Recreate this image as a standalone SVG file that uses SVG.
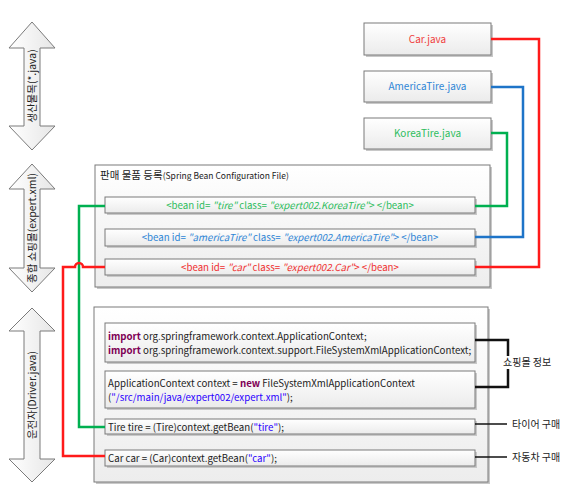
<svg xmlns="http://www.w3.org/2000/svg" width="586" height="493" viewBox="0 0 586 493">
<style>
text{font-family:"Noto Sans CJK KR","Noto Sans",sans-serif;font-size:10px;fill:#222}
.code{font-size:9.7px}
.box{fill:url(#g);stroke:#7a7a7a;stroke-width:1}
.shadow{fill:#c8c8c8}
.cont{fill:url(#g2);stroke:#7a7a7a;stroke-width:1}
.arrow{fill:url(#g3);stroke:#7a7a7a;stroke-width:1}
.c{fill:none;stroke-width:2.5}
.kw{fill:#7f0055;font-weight:bold}
.str{fill:#2a00ff}
.i{font-style:italic}
</style>
<defs>
<linearGradient id="g" x1="0" y1="0" x2="0" y2="1"><stop offset="0" stop-color="#ffffff"/><stop offset="1" stop-color="#ebebeb"/></linearGradient>
<linearGradient id="g2" x1="0" y1="0" x2="0" y2="1"><stop offset="0" stop-color="#ffffff"/><stop offset="1" stop-color="#ededed"/></linearGradient>
<linearGradient id="g3" x1="0" y1="0" x2="1" y2="0"><stop offset="0" stop-color="#ffffff"/><stop offset="1" stop-color="#e6e6e6"/></linearGradient>
</defs>
<rect width="586" height="493" fill="#ffffff"/>

<g id="arrow-product">
<polygon class="arrow" points="32,22 55,48 40,48 40,126 55,126 32,150 9,126 24,126 24,48 9,48"/>
<text transform="translate(36,86) rotate(-90)" text-anchor="middle" style="font-size:10.5px">생산물목(*.java)</text>
</g>
<g id="arrow-mall">
<polygon class="arrow" points="32,164 55,189 40,189 40,268 55,268 32,292 9,268 24,268 24,189 9,189"/>
<text transform="translate(36,228) rotate(-90)" text-anchor="middle" style="font-size:10.5px">종합 쇼핑몰(expert.xml)</text>
</g>
<g id="arrow-driver">
<polygon class="arrow" points="32,308 55,331 40,331 40,459 55,459 32,482 9,459 24,459 24,331 9,331"/>
<text transform="translate(36,395) rotate(-90)" text-anchor="middle" style="font-size:10.5px">운전자(Driver.java)</text>
</g>

<g id="car-java">
<rect class="shadow" x="366" y="25" width="127" height="32"/>
<rect class="box" x="364" y="23" width="127" height="32"/>
<text x="427.5" y="43" text-anchor="middle" style="fill:#f04040">Car.java</text>
</g>
<g id="americatire-java">
<rect class="shadow" x="366" y="73" width="127" height="31"/>
<rect class="box" x="364" y="71" width="127" height="31"/>
<text x="427.5" y="90" text-anchor="middle" style="fill:#2f86d6">AmericaTire.java</text>
</g>
<g id="koreatire-java">
<rect class="shadow" x="366" y="120" width="127" height="31"/>
<rect class="box" x="364" y="118" width="127" height="31"/>
<text x="427.5" y="137" text-anchor="middle" style="fill:#2ebd5e">KoreaTire.java</text>
</g>

<g id="config-file">
<rect class="shadow" x="97" y="167" width="395" height="122"/>
<rect class="cont" x="95" y="165" width="395" height="122"/>
<text x="100" y="179"><tspan style="font-size:10.5px">판매 물품 등록</tspan><tspan style="font-size:8.5px">(Spring Bean Configuration File)</tspan></text>
</g>
<g id="bean-tire">
<rect class="shadow" x="107" y="199" width="370" height="16"/>
<rect class="box" x="105" y="197" width="370" height="16"/>
<text class="code" x="290" y="208.5" text-anchor="middle" style="fill:#2ebd5e">&lt;bean id= <tspan class="i" style="fill:#2ebd5e">"tire"</tspan> class= <tspan class="i" style="fill:#2ebd5e">"expert002.KoreaTire"</tspan>&gt; &lt;/bean&gt;</text>
</g>
<g id="bean-americatire">
<rect class="shadow" x="107" y="231" width="370" height="17"/>
<rect class="box" x="105" y="229" width="370" height="17"/>
<text class="code" x="290" y="241" text-anchor="middle" style="fill:#2f86d6">&lt;bean id= <tspan class="i" style="fill:#2f86d6">"americaTire"</tspan> class= <tspan class="i" style="fill:#2f86d6">"expert002.AmericaTire"</tspan>&gt; &lt;/bean&gt;</text>
</g>
<g id="bean-car">
<rect class="shadow" x="107" y="261" width="370" height="16"/>
<rect class="box" x="105" y="259" width="370" height="16"/>
<text class="code" x="290" y="270.5" text-anchor="middle" style="fill:#f03030">&lt;bean id= <tspan class="i" style="fill:#f03030">"car"</tspan> class= <tspan class="i" style="fill:#f03030">"expert002.Car"</tspan>&gt; &lt;/bean&gt;</text>
</g>

<g id="driver-java">
<rect class="shadow" x="96" y="309" width="394" height="175"/>
<rect class="cont" x="94" y="307" width="394" height="175"/>
</g>
<g id="imports">
<rect class="shadow" x="107" y="325" width="370" height="39"/>
<rect class="box" x="105" y="323" width="370" height="39"/>
<text class="code" x="108" y="340"><tspan class="kw">import</tspan> org.springframework.context.ApplicationContext;</text>
<text class="code" x="108" y="354"><tspan class="kw">import</tspan> org.springframework.context.support.FileSystemXmlApplicationContext;</text>
</g>
<g id="context">
<rect class="shadow" x="107" y="373" width="370" height="37"/>
<rect class="box" x="105" y="371" width="370" height="37"/>
<text class="code" x="108" y="387">ApplicationContext context = <tspan class="kw">new</tspan> FileSystemXmlApplicationContext</text>
<text class="code" x="108" y="401">(<tspan class="str">"/src/main/java/expert002/expert.xml"</tspan>);</text>
</g>
<g id="get-tire">
<rect class="shadow" x="107" y="421" width="370" height="15"/>
<rect class="box" x="105" y="419" width="370" height="15"/>
<text class="code" x="108" y="430.5">Tire tire = (Tire)context.getBean(<tspan class="str">"tire"</tspan>);</text>
</g>
<g id="get-car">
<rect class="shadow" x="107" y="452" width="370" height="16"/>
<rect class="box" x="105" y="450" width="370" height="16"/>
<text class="code" x="108" y="461.5">Car car = (Car)context.getBean(<tspan class="str">"car"</tspan>);</text>
</g>

<g id="label-mall-info"><text x="503" y="366">쇼핑몰 정보</text></g>
<g id="label-buy-tire"><text x="512" y="428">타이어 구매</text></g>
<g id="label-buy-car"><text x="512" y="461">자동차 구매</text></g>

<g id="connectors">
<path class="c" stroke="#ff1a1a" d="M491,39 H539 V267 H475"/>
<path class="c" stroke="#1e74c8" d="M491,87 H523 V237 H475"/>
<path class="c" stroke="#00b050" d="M491,133 H507 V206 H475"/>
<path class="c" stroke="#00b050" d="M105,206 H79 V427 H105"/>
<path class="c" stroke="#ff1a1a" d="M105,267 H83 A4,4 0 0 0 75,267 H63 V456 H105"/>
<path class="c" stroke="#111" d="M475,340 H508 V356"/>
<path class="c" stroke="#111" d="M508,369 V387 H475"/>
<path fill="none" stroke="#111" stroke-width="1.5" d="M475,424 H507"/>
<path fill="none" stroke="#111" stroke-width="1.5" d="M475,457 H507"/>
</g>
</svg>
